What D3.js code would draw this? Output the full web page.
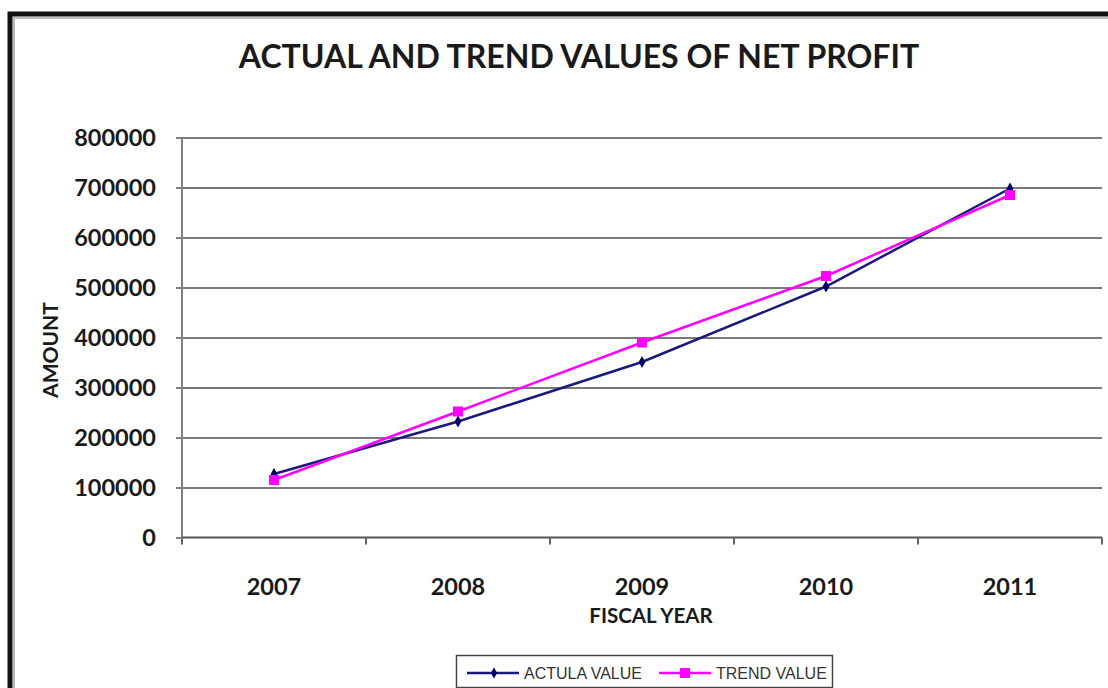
<!DOCTYPE html>
<html>
<head>
<meta charset="utf-8">
<script src="https://cdn.jsdelivr.net/npm/d3@7"></script>
<style>
  html, body { margin: 0; padding: 0; background: #fff; }
  svg { display: block; }
</style>
</head>
<body>
<svg id="chart" width="1108" height="688"></svg>
<script>
// Fiscal years and net profit figures
const years = ["2007", "2008", "2009", "2010", "2011"];
const actualValues = [127000, 232000, 351000, 502000, 698000];
const trendValues = [115000, 252000, 390000, 523000, 685000];
const yTicks = [0, 100000, 200000, 300000, 400000, 500000, 600000, 700000, 800000];
const seriesNames = ["ACTULA VALUE", "TREND VALUE"];

const W = 1108, H = 688;
const plot = { left: 182, right: 1102, top: 137.5, bottom: 537.5 };
const svg = d3.select("#chart");

const boldFont = "Lato, 'Open Sans', sans-serif";

// Outer frame (top and left edges)
svg.append("path")
  .attr("d", `M10,${H} V14 H${W}`)
  .attr("fill", "none").attr("stroke", "#111").attr("stroke-width", 5);
svg.append("path")
  .attr("d", `M14,${H} V18 H${W}`)
  .attr("fill", "none").attr("stroke", "#bbb").attr("stroke-width", 2);

// Title
svg.append("text")
  .attr("x", 579).attr("y", 68)
  .attr("text-anchor", "middle")
  .attr("font-family", boldFont).attr("font-weight", 700)
  .attr("font-size", 32).attr("fill", "#1a1a1a")
  .text("ACTUAL AND TREND VALUES OF NET PROFIT");

// Scales
const x = d3.scaleBand().domain(years).range([plot.left, plot.right]).padding(0);
const y = d3.scaleLinear().domain([0, 800000]).range([plot.bottom, plot.top]);
const cx = d => x(d) + x.bandwidth() / 2;

// Horizontal gridlines
svg.append("g")
  .attr("transform", `translate(${plot.left},0)`)
  .call(d3.axisLeft(y).tickValues(yTicks.filter(v => v > 0))
        .tickSize(-(plot.right - plot.left)).tickFormat(""))
  .call(g => g.select(".domain").remove())
  .call(g => g.selectAll("line").attr("stroke", "#7a7a7a").attr("stroke-width", 2));

// Y axis with labels
svg.append("g")
  .attr("transform", `translate(${plot.left},0)`)
  .call(d3.axisLeft(y).tickValues(yTicks).tickSize(6).tickPadding(20)
        .tickFormat(d3.format("d")))
  .call(g => g.select(".domain").attr("stroke", "#808080").attr("stroke-width", 2)
        .attr("d", `M0,${plot.top}V${plot.bottom}`))
  .call(g => g.selectAll("line").attr("stroke", "#808080").attr("stroke-width", 2))
  .call(g => g.selectAll("text")
        .attr("font-family", boldFont).attr("font-weight", 700)
        .attr("font-size", 23.5).attr("fill", "#1a1a1a"));

// X axis: baseline, category labels, boundary ticks
const xAxis = svg.append("g")
  .attr("transform", `translate(0,${plot.bottom})`)
  .call(d3.axisBottom(x).tickSize(0).tickPadding(41))
  .call(g => g.select(".domain").attr("stroke", "#555").attr("stroke-width", 2)
        .attr("d", `M${plot.left},0H${plot.right}`))
  .call(g => g.selectAll("text")
        .attr("font-family", boldFont).attr("font-weight", 700)
        .attr("font-size", 23.5).attr("fill", "#1a1a1a"));

const boundaries = years.map(d => x(d)).concat([x(years[years.length - 1]) + x.bandwidth()]);
xAxis.selectAll(".bound")
  .data(boundaries)
  .join("line")
  .attr("class", "bound")
  .attr("x1", d => d).attr("x2", d => d)
  .attr("y1", 0).attr("y2", 7)
  .attr("stroke", "#666").attr("stroke-width", 2);

// Axis titles
svg.append("text")
  .attr("x", 651).attr("y", 623)
  .attr("text-anchor", "middle")
  .attr("font-family", boldFont).attr("font-weight", 700)
  .attr("font-size", 20.5).attr("fill", "#1a1a1a")
  .text("FISCAL YEAR");

svg.append("text")
  .attr("transform", "translate(58,350) rotate(-90)")
  .attr("text-anchor", "middle")
  .attr("font-family", boldFont).attr("font-weight", 700)
  .attr("font-size", 21).attr("fill", "#1a1a1a")
  .text("AMOUNT");

// Series lines and markers
const line = d3.line().x((d, i) => cx(years[i])).y(d => y(d));

const navy = "#1a1a7a";
const magenta = "#ff00ff";

svg.append("path")
  .datum(actualValues)
  .attr("d", line)
  .attr("fill", "none").attr("stroke", navy).attr("stroke-width", 2.5);

svg.selectAll(".actual-pt")
  .data(actualValues)
  .join("path")
  .attr("class", "actual-pt")
  .attr("transform", (d, i) => `translate(${cx(years[i])},${y(d)})`)
  .attr("d", d3.symbol(d3.symbolDiamond, 40))
  .attr("fill", "#000066");

svg.append("path")
  .datum(trendValues)
  .attr("d", line)
  .attr("fill", "none").attr("stroke", magenta).attr("stroke-width", 2.5);

svg.selectAll(".trend-pt")
  .data(trendValues)
  .join("rect")
  .attr("class", "trend-pt")
  .attr("x", (d, i) => cx(years[i]) - 5)
  .attr("y", d => y(d) - 5)
  .attr("width", 10).attr("height", 10)
  .attr("fill", magenta);

// Legend
const legend = svg.append("g");
legend.append("rect")
  .attr("x", 456.5).attr("y", 655.5).attr("width", 376).attr("height", 32)
  .attr("fill", "#fff").attr("stroke", "#444").attr("stroke-width", 1.5);

const legendItems = [
  { name: seriesNames[0], color: navy, x0: 467, kind: "diamond" },
  { name: seriesNames[1], color: magenta, x0: 659, kind: "square" }
];
legendItems.forEach(item => {
  const g = legend.append("g").attr("transform", `translate(${item.x0},673)`);
  g.append("line").attr("x1", 0).attr("x2", 52).attr("y1", 0).attr("y2", 0)
    .attr("stroke", item.color).attr("stroke-width", 2.5);
  if (item.kind === "diamond") {
    g.append("path").attr("transform", "translate(27,0)")
      .attr("d", d3.symbol(d3.symbolDiamond, 34)).attr("fill", "#000066");
  } else {
    g.append("rect").attr("x", 21).attr("y", -5).attr("width", 10).attr("height", 10)
      .attr("fill", item.color);
  }
  g.append("text").attr("x", 57).attr("y", 6)
    .attr("font-family", "'Liberation Sans', Arial, sans-serif")
    .attr("font-size", 16).attr("fill", "#333")
    .text(item.name);
});
</script>
</body>
</html>
